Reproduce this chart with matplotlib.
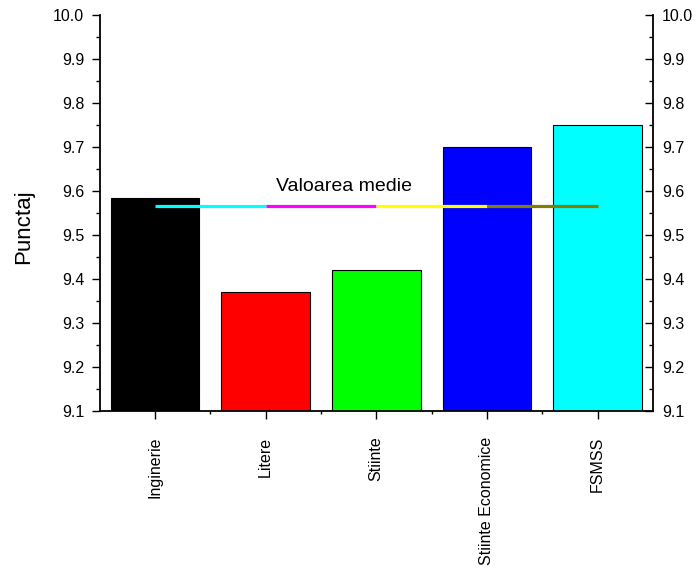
import matplotlib
matplotlib.use("Agg")
import matplotlib.pyplot as plt
import numpy as np

plt.rcParams['font.family'] = ['Liberation Sans', 'DejaVu Sans']

categories = ["Inginerie", "Litere", "Stiinte", "Stiinte Economice", "FSMSS"]
scores = [9.585, 9.37, 9.42, 9.70, 9.75]
bar_colors = ["#000000", "#ff0000", "#00ff00", "#0000ff", "#00ffff"]
mean_colors = ["#00ffff", "#ff00ff", "#ffff00", "#808000"]
mean_value = np.mean(scores)

fig = plt.figure(figsize=(7, 5.71), dpi=100)
ax = fig.add_axes([0.1423, 0.2802, 0.7904, 0.6935])

x = np.arange(1, len(categories) + 1)
ax.bar(x, scores, width=0.8, bottom=0, color=bar_colors, edgecolor="black", linewidth=0.8, zorder=2)

# mean line drawn as coloured segments between categories
for i in range(len(x) - 1):
    ax.plot([x[i], x[i + 1]], [mean_value, mean_value], color=mean_colors[i], lw=2.3,
            solid_capstyle="butt", zorder=3)
ax.text(2.71, 9.61, "Valoarea medie", ha="center", va="center", fontsize=14)

yt = np.arange(9.1, 10.01, 0.1)
ymin = np.arange(9.15, 10.0, 0.1)
ax.set_xlim(0.5, 5.5)
ax.set_ylim(9.1, 10.0)
ax.set_yticks(yt)
ax.set_yticks(ymin, minor=True)
ax.set_yticklabels([f"{v:.1f}" for v in yt])
ax.set_xticks(x)
ax.set_xticks(np.arange(1.5, 5.5, 1.0), minor=True)
ax.set_xticklabels(categories, rotation=90)

ax.tick_params(axis="y", which="both", direction="out", left=True, right=False, labelsize=11.5)
ax.tick_params(axis="y", which="major", length=6, width=1, pad=5)
ax.tick_params(axis="y", which="minor", length=3, width=1)
ax.tick_params(axis="x", which="major", direction="out", length=5.5, width=1, labelsize=11.5, pad=13)
ax.tick_params(axis="x", which="minor", direction="out", length=2.5, width=1)
ax.spines["top"].set_visible(False)
ax.spines["right"].set_visible(False)
for s in ["left", "bottom"]:
    ax.spines[s].set_linewidth(1.3)

# right axis with inward ticks
ax2 = ax.twinx()
ax2.set_ylim(9.1, 10.0)
ax2.set_yticks(yt)
ax2.set_yticks(ymin, minor=True)
ax2.set_yticklabels([f"{v:.1f}" for v in yt])
ax2.tick_params(axis="y", which="both", direction="in", labelsize=11.5)
ax2.tick_params(axis="y", which="major", length=6, width=1, pad=6.5)
ax2.tick_params(axis="y", which="minor", length=3, width=1)
for s in ["top", "left", "bottom"]:
    ax2.spines[s].set_visible(False)
ax2.spines["right"].set_linewidth(1.3)

ax.set_ylabel("Punctaj", fontsize=16)
ax.yaxis.set_label_coords(-0.119, 0.465)

plt.savefig("out.png", dpi=100)
